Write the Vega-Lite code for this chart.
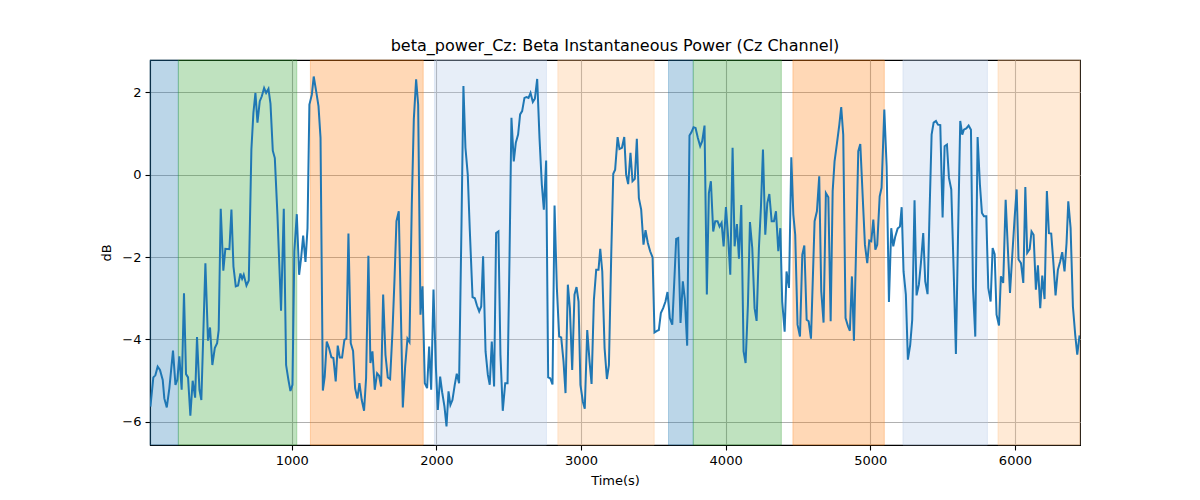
{
  "$schema": "https://vega.github.io/schema/vega-lite/v6.json",
  "width": 930,
  "height": 385,
  "autosize": {"type": "none"},
  "padding": {"left": 150, "top": 60, "right": 120, "bottom": 55},
  "background": "white",
  "config": {
    "font": "DejaVu Sans",
    "view": {"stroke": "black", "strokeWidth": 1.1},
    "axis": {
      "zindex": 1,
      "grid": true, "gridColor": "#b0b0b0", "gridWidth": 1.1,
      "domainColor": "black", "domainWidth": 1.1,
      "tickColor": "black", "tickSize": 5, "tickWidth": 1.1,
      "labelFont": "DejaVu Sans", "labelFontSize": 13, "labelColor": "black", "labelPadding": 4,
      "titleFont": "DejaVu Sans", "titleFontSize": 13, "titleFontWeight": "normal", "titleColor": "black"
    }
  },
  "title": {
    "text": "beta_power_Cz: Beta Instantaneous Power (Cz Channel)",
    "font": "DejaVu Sans", "fontSize": 16, "fontWeight": "normal", "color": "black",
    "anchor": "middle", "offset": 6
  },
  "datasets": {
    "bands": [
      {"s": 20, "e": 216, "state": "1"},
      {"s": 216, "e": 1035, "state": "2"},
      {"s": 1129, "e": 1909, "state": "3"},
      {"s": 1987, "e": 2761, "state": "4"},
      {"s": 2840, "e": 3506, "state": "5"},
      {"s": 3605, "e": 3776, "state": "1"},
      {"s": 3776, "e": 4385, "state": "2"},
      {"s": 4465, "e": 5097, "state": "3"},
      {"s": 5226, "e": 5810, "state": "4"},
      {"s": 5883, "e": 6450, "state": "5"}
    ],
    "power": [
      {"t":23,"v":-5.63},{"t":43,"v":-4.92},{"t":57,"v":-4.87},{"t":73,"v":-4.66},{"t":89,"v":-4.74},{"t":108,"v":-4.98},{"t":119,"v":-5.43},{"t":136,"v":-5.65},{"t":154,"v":-5.18},{"t":179,"v":-4.27},{"t":196,"v":-5.10},{"t":209,"v":-4.98},{"t":223,"v":-4.41},{"t":239,"v":-5.22},{"t":255,"v":-2.88},{"t":269,"v":-4.84},{"t":283,"v":-4.92},{"t":299,"v":-5.85},{"t":315,"v":-5.0},{"t":332,"v":-5.41},{"t":345,"v":-3.94},{"t":362,"v":-5.22},{"t":375,"v":-5.47},{"t":403,"v":-2.15},{"t":421,"v":-4.03},{"t":435,"v":-3.71},{"t":451,"v":-4.62},{"t":468,"v":-4.21},{"t":484,"v":-4.09},{"t":495,"v":-3.77},{"t":509,"v":-0.83},{"t":527,"v":-2.33},{"t":541,"v":-1.80},{"t":569,"v":-1.81},{"t":583,"v":-0.85},{"t":597,"v":-2.23},{"t":613,"v":-2.71},{"t":629,"v":-2.69},{"t":645,"v":-2.40},{"t":657,"v":-2.53},{"t":668,"v":-2.43},{"t":687,"v":-2.69},{"t":703,"v":-2.57},{"t":721,"v":0.61},{"t":735,"v":1.50},{"t":749,"v":1.98},{"t":763,"v":1.26},{"t":779,"v":1.78},{"t":793,"v":1.90},{"t":809,"v":2.10},{"t":823,"v":1.98},{"t":839,"v":2.08},{"t":853,"v":1.72},{"t":869,"v":0.58},{"t":883,"v":0.40},{"t":901,"v":-0.97},{"t":926,"v":-3.30},{"t":945,"v":-0.83},{"t":961,"v":-4.62},{"t":977,"v":-4.98},{"t":991,"v":-5.25},{"t":1005,"v":-5.10},{"t":1018,"v":-1.86},{"t":1035,"v":-0.96},
      {"t":1051,"v":-2.43},{"t":1065,"v":-2.02},{"t":1079,"v":-1.48},{"t":1095,"v":-2.12},{"t":1109,"v":-1.30},{"t":1122,"v":1.70},{"t":1139,"v":1.94},{"t":1152,"v":2.38},{"t":1169,"v":2.02},{"t":1185,"v":1.66},{"t":1199,"v":0.89},{"t":1215,"v":-5.24},{"t":1228,"v":-4.90},{"t":1242,"v":-4.05},{"t":1258,"v":-4.21},{"t":1274,"v":-4.43},{"t":1288,"v":-4.45},{"t":1304,"v":-5.02},{"t":1318,"v":-4.15},{"t":1332,"v":-4.44},{"t":1348,"v":-4.44},{"t":1364,"v":-4.01},{"t":1378,"v":-3.98},{"t":1392,"v":-1.43},{"t":1408,"v":-4.09},{"t":1424,"v":-4.28},{"t":1438,"v":-5.18},{"t":1454,"v":-5.43},{"t":1468,"v":-5.06},{"t":1484,"v":-5.47},{"t":1500,"v":-5.73},{"t":1514,"v":-4.94},{"t":1530,"v":-1.97},{"t":1544,"v":-4.57},{"t":1558,"v":-4.29},{"t":1574,"v":-5.22},{"t":1590,"v":-4.82},{"t":1604,"v":-4.88},{"t":1618,"v":-5.14},{"t":1632,"v":-2.91},{"t":1648,"v":-4.37},{"t":1664,"v":-4.92},{"t":1680,"v":-4.96},{"t":1696,"v":-3.85},{"t":1710,"v":-2.59},{"t":1724,"v":-1.13},{"t":1740,"v":-0.89},{"t":1754,"v":-3.24},{"t":1768,"v":-5.65},{"t":1784,"v":-4.66},{"t":1800,"v":-3.98},{"t":1814,"v":-4.06},{"t":1830,"v":-0.73},{"t":1844,"v":1.34},{"t":1860,"v":2.31},{"t":1874,"v":1.70},{"t":1890,"v":-3.40},{"t":1904,"v":-2.71},{"t":1920,"v":-5.06},{"t":1936,"v":-5.18},{"t":1950,"v":-4.17},{"t":1964,"v":-5.22},{"t":1980,"v":-2.79},{"t":1996,"v":-4.62},{"t":2010,"v":-5.71},{"t":2026,"v":-4.90},{"t":2040,"v":-5.28},{"t":2056,"v":-5.63},{"t":2070,"v":-6.11},
      {"t":2084,"v":-5.26},{"t":2097,"v":-5.59},{"t":2111,"v":-5.47},{"t":2127,"v":-5.10},{"t":2141,"v":-4.83},{"t":2157,"v":-5.06},{"t":2174,"v":-1.13},{"t":2187,"v":2.15},{"t":2201,"v":0.65},{"t":2217,"v":0.0},{"t":2231,"v":-1.34},{"t":2250,"v":-2.97},{"t":2266,"v":-3.00},{"t":2280,"v":-3.17},{"t":2296,"v":-3.32},{"t":2310,"v":-3.20},{"t":2323,"v":-1.98},{"t":2340,"v":-4.29},{"t":2356,"v":-4.86},{"t":2369,"v":-5.10},{"t":2383,"v":-4.05},{"t":2399,"v":-5.14},{"t":2413,"v":-1.42},{"t":2429,"v":-1.38},{"t":2443,"v":-4.37},{"t":2459,"v":-5.73},{"t":2476,"v":-5.06},{"t":2492,"v":-5.06},{"t":2506,"v":-1.94},{"t":2519,"v":1.38},{"t":2535,"v":0.32},{"t":2549,"v":0.77},{"t":2565,"v":0.97},{"t":2579,"v":1.46},{"t":2593,"v":1.54},{"t":2609,"v":1.86},{"t":2623,"v":1.88},{"t":2637,"v":1.86},{"t":2651,"v":1.98},{"t":2667,"v":1.76},{"t":2681,"v":1.84},{"t":2697,"v":2.32},{"t":2713,"v":0.89},{"t":2729,"v":-0.24},{"t":2743,"v":-0.85},{"t":2759,"v":0.34},{"t":2773,"v":-4.92},{"t":2787,"v":-4.94},{"t":2803,"v":-5.09},{"t":2817,"v":-0.75},{"t":2833,"v":-2.75},{"t":2849,"v":-3.93},{"t":2863,"v":-3.95},{"t":2879,"v":-4.53},{"t":2893,"v":-5.30},{"t":2909,"v":-2.67},{"t":2923,"v":-3.24},{"t":2939,"v":-4.74},{"t":2955,"v":-2.91},{"t":2969,"v":-2.73},{"t":2983,"v":-3.08},{"t":2996,"v":-5.10},{"t":3013,"v":-5.51},{"t":3026,"v":-5.68},{"t":3043,"v":-3.77},{"t":3059,"v":-4.53},{"t":3073,"v":-5.08},{"t":3089,"v":-3.04},
      {"t":3105,"v":-2.31},{"t":3121,"v":-2.31},{"t":3133,"v":-1.80},{"t":3147,"v":-2.35},{"t":3163,"v":-4.21},{"t":3179,"v":-4.96},{"t":3193,"v":-4.62},{"t":3209,"v":-1.94},{"t":3223,"v":0.02},{"t":3236,"v":0.12},{"t":3253,"v":0.91},{"t":3266,"v":0.62},{"t":3283,"v":0.65},{"t":3299,"v":0.91},{"t":3312,"v":0.0},{"t":3326,"v":-0.23},{"t":3342,"v":0.53},{"t":3356,"v":-0.16},{"t":3372,"v":-0.10},{"t":3386,"v":0.87},{"t":3400,"v":-0.57},{"t":3416,"v":-0.85},{"t":3432,"v":-1.70},{"t":3446,"v":-1.35},{"t":3462,"v":-1.66},{"t":3478,"v":-1.86},{"t":3495,"v":-2.01},{"t":3508,"v":-3.83},{"t":3525,"v":-3.79},{"t":3538,"v":-3.77},{"t":3552,"v":-3.36},{"t":3568,"v":-3.24},{"t":3584,"v":-3.08},{"t":3598,"v":-2.85},{"t":3614,"v":-3.48},{"t":3631,"v":-3.64},{"t":3647,"v":-2.43},{"t":3658,"v":-1.56},{"t":3672,"v":-1.54},{"t":3688,"v":-3.60},{"t":3704,"v":-2.59},{"t":3718,"v":-3.02},{"t":3734,"v":-4.15},{"t":3750,"v":0.95},{"t":3764,"v":1.03},{"t":3778,"v":1.15},{"t":3792,"v":1.13},{"t":3808,"v":0.89},{"t":3824,"v":0.69},{"t":3838,"v":0.81},{"t":3854,"v":1.19},{"t":3870,"v":-2.91},{"t":3884,"v":-0.45},{"t":3898,"v":-0.16},{"t":3914,"v":-1.38},{"t":3928,"v":-1.13},{"t":3944,"v":-1.13},{"t":3958,"v":-1.26},{"t":3972,"v":-1.17},{"t":3986,"v":-1.74},{"t":4002,"v":-0.79},{"t":4016,"v":-1.46},{"t":4032,"v":-2.43},{"t":4048,"v":0.65},{"t":4062,"v":-1.74},{"t":4078,"v":-1.20},{"t":4092,"v":-2.04},{"t":4108,"v":-0.74},{"t":4124,"v":-4.29},{"t":4138,"v":-4.57},{"t":4154,"v":-3.16},{"t":4168,"v":-1.15},{"t":4184,"v":-1.78},{"t":4200,"v":-3.24},
      {"t":4214,"v":-3.55},{"t":4230,"v":-1.78},{"t":4244,"v":-0.79},{"t":4258,"v":0.61},{"t":4274,"v":-1.46},{"t":4288,"v":-0.69},{"t":4302,"v":-0.47},{"t":4318,"v":-1.13},{"t":4334,"v":-1.13},{"t":4348,"v":-0.89},{"t":4364,"v":-1.86},{"t":4378,"v":-1.30},{"t":4391,"v":-3.08},{"t":4408,"v":-3.81},{"t":4421,"v":-2.35},{"t":4438,"v":-2.75},{"t":4454,"v":0.42},{"t":4468,"v":-0.97},{"t":4481,"v":-1.46},{"t":4497,"v":-3.64},{"t":4514,"v":-3.93},{"t":4530,"v":-1.94},{"t":4544,"v":-1.72},{"t":4560,"v":-3.52},{"t":4574,"v":-3.56},{"t":4590,"v":-3.98},{"t":4615,"v":-1.13},{"t":4631,"v":-0.89},{"t":4647,"v":-0.04},{"t":4661,"v":-2.83},{"t":4677,"v":-3.59},{"t":4693,"v":-0.45},{"t":4710,"v":-0.55},{"t":4726,"v":-3.56},{"t":4740,"v":-0.40},{"t":4753,"v":0.32},{"t":4770,"v":0.77},{"t":4786,"v":1.21},{"t":4799,"v":1.64},{"t":4813,"v":0.97},{"t":4829,"v":-3.48},{"t":4846,"v":-3.68},{"t":4859,"v":-3.79},{"t":4873,"v":-2.47},{"t":4887,"v":-4.03},{"t":4903,"v":-1.62},{"t":4917,"v":0.57},{"t":4931,"v":0.74},{"t":4947,"v":-0.49},{"t":4963,"v":-1.70},{"t":4979,"v":-2.15},{"t":4993,"v":-1.60},{"t":5007,"v":-1.62},{"t":5021,"v":-1.09},{"t":5035,"v":-1.82},{"t":5048,"v":-1.70},{"t":5065,"v":-0.53},{"t":5078,"v":-0.32},{"t":5097,"v":1.58},{"t":5113,"v":0.20},{"t":5129,"v":-3.09},{"t":5145,"v":-1.30},{"t":5159,"v":-1.74},{"t":5173,"v":-1.50},{"t":5189,"v":-1.31},{"t":5205,"v":-1.26},{"t":5217,"v":-0.79},
      {"t":5230,"v":-2.35},{"t":5246,"v":-2.91},{"t":5260,"v":-4.49},{"t":5276,"v":-4.13},{"t":5290,"v":-3.52},{"t":5306,"v":-0.62},{"t":5320,"v":-2.93},{"t":5336,"v":-2.67},{"t":5350,"v":-2.15},{"t":5366,"v":-1.42},{"t":5380,"v":-2.59},{"t":5396,"v":-2.90},{"t":5410,"v":-0.89},{"t":5424,"v":0.97},{"t":5438,"v":1.26},{"t":5454,"v":1.30},{"t":5468,"v":1.21},{"t":5484,"v":1.20},{"t":5500,"v":-1.04},{"t":5514,"v":0.69},{"t":5530,"v":0.73},{"t":5544,"v":-0.08},{"t":5560,"v":-0.36},{"t":5576,"v":-2.27},{"t":5592,"v":-4.35},{"t":5606,"v":-1.62},{"t":5622,"v":1.30},{"t":5636,"v":0.97},{"t":5647,"v":1.09},{"t":5664,"v":1.12},{"t":5680,"v":1.19},{"t":5696,"v":1.09},{"t":5710,"v":-2.75},{"t":5726,"v":-3.93},{"t":5742,"v":0.91},{"t":5758,"v":-0.24},{"t":5772,"v":-0.93},{"t":5786,"v":-1.01},{"t":5802,"v":-1.01},{"t":5816,"v":-2.75},{"t":5832,"v":-3.08},{"t":5846,"v":-1.78},{"t":5860,"v":-1.93},{"t":5873,"v":-3.40},{"t":5890,"v":-3.66},{"t":5903,"v":-2.47},{"t":5919,"v":-2.63},{"t":5936,"v":-0.61},{"t":5952,"v":-1.86},{"t":5966,"v":-2.87},{"t":5979,"v":-2.11},{"t":5998,"v":-1.05},{"t":6012,"v":-0.36},{"t":6025,"v":-2.06},{"t":6042,"v":-2.15},{"t":6058,"v":-2.63},{"t":6072,"v":-0.30},{"t":6085,"v":-1.90},{"t":6102,"v":-1.81},{"t":6115,"v":-1.38},{"t":6129,"v":-1.46},{"t":6145,"v":-2.79},{"t":6159,"v":-2.20},{"t":6175,"v":-3.24},{"t":6189,"v":-2.45},{"t":6205,"v":-3.02},{"t":6221,"v":-0.40},{"t":6235,"v":-1.42},{"t":6251,"v":-1.43},{"t":6267,"v":-2.19},{"t":6281,"v":-2.93},{"t":6297,"v":-2.31},{"t":6313,"v":-2.11},{"t":6327,"v":-1.88},{"t":6343,"v":-2.35},{"t":6357,"v":-1.66},{"t":6369,"v":-0.65},{"t":6385,"v":-1.30},{"t":6401,"v":-3.20},{"t":6417,"v":-3.89},{"t":6431,"v":-4.37},{"t":6447,"v":-3.90}
    ]
  },
  "layer": [
    {
      "data": {"name": "bands"},
      "mark": {"type": "rect", "fillOpacity": 0.3, "strokeOpacity": 0.3, "strokeWidth": 1},
      "encoding": {
        "x": {"field": "s", "type": "quantitative",
              "scale": {"domain": [20, 6450], "nice": false, "zero": false},
              "axis": {"title": "Time(s)", "values": [1000, 2000, 3000, 4000, 5000, 6000], "format": "d", "titlePadding": 7}},
        "x2": {"field": "e"},
        "color": {"field": "state", "type": "nominal",
                  "scale": {"domain": ["1", "2", "3", "4", "5"], "range": ["#1f77b4", "#2ca02c", "#ff7f0e", "#aec7e8", "#ffbb78"]},
                  "legend": null},
        "stroke": {"field": "state", "type": "nominal",
                   "scale": {"domain": ["1", "2", "3", "4", "5"], "range": ["#1f77b4", "#2ca02c", "#ff7f0e", "#aec7e8", "#ffbb78"]},
                   "legend": null}
      }
    },
    {
      "data": {"name": "power"},
      "mark": {"type": "line", "color": "#1f77b4", "strokeWidth": 2, "clip": true},
      "encoding": {
        "x": {"field": "t", "type": "quantitative"},
        "y": {"field": "v", "type": "quantitative",
              "scale": {"domain": [-6.56, 2.78], "nice": false, "zero": false},
              "axis": {"title": "dB", "values": [-6, -4, -2, 0, 2],
                       "labelExpr": "replace(format(datum.value, 'd'), '-', '\u2212')", "titlePadding": 8}}
      }
    }
  ]
}
